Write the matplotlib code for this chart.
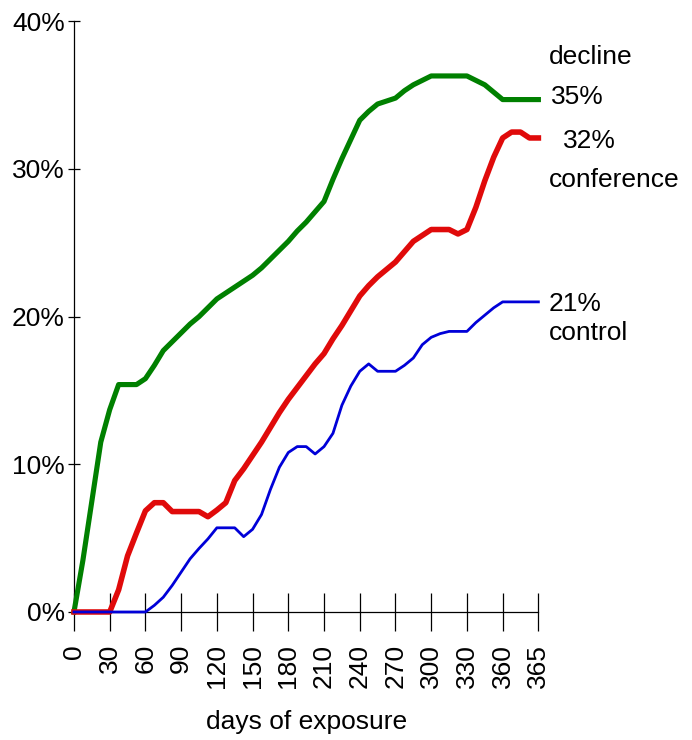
import numpy as np
import matplotlib
matplotlib.use("Agg")
import matplotlib.pyplot as plt
from matplotlib.ticker import FuncFormatter

plt.rcParams['font.family'] = ['Liberation Sans', 'DejaVu Sans']
fontsize = 19

# weekly points (53 weeks), x axis is a category axis
weeks = np.arange(53)
tick_pos = [0, 4, 8, 12, 16, 20, 24, 28, 32, 36, 40, 44, 48, 52]
tick_labels = ['0', '30', '60', '90', '120', '150', '180', '210', '240',
               '270', '300', '330', '360', '365']

decline = [0, 3.5, 7.5, 11.5, 13.7, 15.4, 15.4, 15.4, 15.8, 16.7,
           17.7, 18.3, 18.9, 19.5, 20.0, 20.6, 21.2, 21.6, 22.0, 22.4,
           22.8, 23.3, 23.9, 24.5, 25.1, 25.8, 26.4, 27.1, 27.8, 29.3,
           30.7, 32.0, 33.3, 33.9, 34.4, 34.6, 34.8, 35.3, 35.7, 36.0,
           36.3, 36.3, 36.3, 36.3, 36.3, 36.0, 35.7, 35.2, 34.7, 34.7,
           34.7, 34.7, 34.7]
conference = [0, 0, 0, 0, 0, 1.5, 3.8, 5.35, 6.85, 7.4,
              7.4, 6.8, 6.8, 6.8, 6.8, 6.45, 6.9, 7.4, 8.9, 9.7,
              10.6, 11.5, 12.5, 13.5, 14.4, 15.2, 16.0, 16.8, 17.5, 18.5,
              19.4, 20.4, 21.4, 22.1, 22.7, 23.2, 23.7, 24.4, 25.1, 25.5,
              25.9, 25.9, 25.9, 25.6, 25.9, 27.4, 29.2, 30.8, 32.1, 32.5,
              32.5, 32.1, 32.1]
control = [0, 0, 0, 0, 0, 0, 0, 0, 0, 0.45,
           1.0, 1.8, 2.7, 3.6, 4.3, 4.95, 5.7, 5.7, 5.7, 5.1,
           5.6, 6.6, 8.3, 9.8, 10.8, 11.2, 11.2, 10.7, 11.2, 12.1,
           14.0, 15.3, 16.3, 16.8, 16.3, 16.3, 16.3, 16.7, 17.2, 18.1,
           18.6, 18.85, 19.0, 19.0, 19.0, 19.6, 20.1, 20.6, 21.0, 21.0,
           21.0, 21.0, 21.0]

fig = plt.figure(figsize=(6.92, 7.4), dpi=100)
ax = fig.add_axes([0.1069, 0.173, 0.6711, 0.7982])

ax.plot(weeks, decline, color='#008000', lw=3.7, solid_joinstyle='round', clip_on=False, zorder=3)
ax.plot(weeks, conference, color='#e00a0a', lw=4.0, solid_joinstyle='round', clip_on=False, zorder=3)
ax.plot(weeks, control, color='#0000d8', lw=2.0, solid_joinstyle='round', clip_on=False, zorder=4)

ax.set_xlim(0, 52)
ax.set_ylim(0, 40)
ax.spines['top'].set_visible(False)
ax.spines['right'].set_visible(False)
ax.spines['left'].set_linewidth(0.9)
ax.spines['bottom'].set_linewidth(0.9)

ax.set_xticks(tick_pos)
ax.set_xticklabels(tick_labels, rotation=90, fontsize=fontsize)
ax.set_yticks([0, 10, 20, 30, 40])
ax.yaxis.set_major_formatter(FuncFormatter(lambda v, p: f"{v:.0f}%"))
ax.tick_params(axis='x', direction='inout', length=28, width=0.9, pad=9)
ax.tick_params(axis='y', direction='inout', length=8, width=0.9, pad=2.5, labelsize=fontsize)

ax.set_xlabel('days of exposure', fontsize=fontsize, labelpad=16)

# end labels
ax.text(53.2, 37.1, 'decline', fontsize=fontsize, va='baseline', clip_on=False)
ax.text(53.4, 34.4, '35%', fontsize=fontsize, va='baseline', clip_on=False)
ax.text(54.7, 31.4, '32%', fontsize=fontsize, va='baseline', clip_on=False)
ax.text(53.2, 28.8, 'conference', fontsize=fontsize, va='baseline', clip_on=False)
ax.text(53.2, 20.4, '21%', fontsize=fontsize, va='baseline', clip_on=False)
ax.text(53.2, 18.4, 'control', fontsize=fontsize, va='baseline', clip_on=False)

plt.savefig('out.png', dpi=100)
